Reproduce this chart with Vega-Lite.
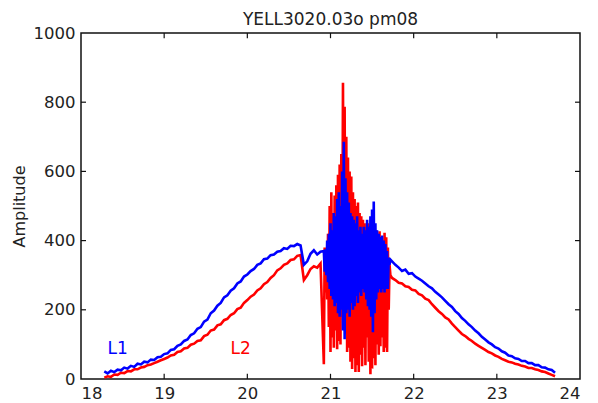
{
  "$schema": "https://vega.github.io/schema/vega-lite/v6.json",
  "width": 499,
  "height": 346,
  "autosize": {"type": "none"},
  "padding": {"left": 81, "top": 33, "right": 18, "bottom": 24},
  "background": "#ffffff",
  "config": {
    "font": "DejaVu Sans",
    "view": {"stroke": "#111111", "strokeWidth": 1.5},
    "axis": {"grid": false, "domain": false, "ticks": false, "labelColor": "#222222", "labelFont": "DejaVu Sans", "labelFontSize": 16.5, "labelPadding": 6, "titleFont": "DejaVu Sans", "titleFontWeight": "normal", "titleColor": "#222222", "titleFontSize": 16, "titlePadding": 6, "format": "d"}
  },
  "title": {"text": "YELL3020.03o  pm08", "fontSize": 17, "fontWeight": "normal", "font": "DejaVu Sans", "color": "#222222", "offset": -4, "anchor": "middle"},
  "datasets": {
    "curves": [
      {"x":18.28,"L1":22,"L2":4},{"x":18.32,"L1":16,"L2":8},{"x":18.36,"L1":24,"L2":6},{"x":18.40,"L1":20,"L2":13},{"x":18.44,"L1":27,"L2":12},{"x":18.48,"L1":25,"L2":18},{"x":18.52,"L1":33,"L2":17},{"x":18.56,"L1":30,"L2":23},{"x":18.60,"L1":38,"L2":22},{"x":18.64,"L1":35,"L2":28},{"x":18.68,"L1":44,"L2":28},{"x":18.72,"L1":42,"L2":33},{"x":18.76,"L1":50,"L2":35},{"x":18.80,"L1":48,"L2":40},{"x":18.84,"L1":56,"L2":42},{"x":18.88,"L1":55,"L2":46},{"x":18.92,"L1":63,"L2":50},{"x":18.96,"L1":64,"L2":54},{"x":19.00,"L1":72,"L2":58},{"x":19.04,"L1":74,"L2":62},{"x":19.08,"L1":84,"L2":68},{"x":19.12,"L1":86,"L2":70},{"x":19.16,"L1":96,"L2":78},{"x":19.20,"L1":100,"L2":80},{"x":19.24,"L1":110,"L2":88},{"x":19.28,"L1":114,"L2":90},{"x":19.32,"L1":127,"L2":99},{"x":19.36,"L1":132,"L2":102},{"x":19.40,"L1":145,"L2":110},{"x":19.44,"L1":150,"L2":112},{"x":19.48,"L1":166,"L2":124},{"x":19.52,"L1":172,"L2":128},{"x":19.56,"L1":190,"L2":140},{"x":19.60,"L1":198,"L2":143},{"x":19.64,"L1":212,"L2":155},{"x":19.68,"L1":220,"L2":158},{"x":19.72,"L1":236,"L2":170},{"x":19.76,"L1":242,"L2":174},{"x":19.80,"L1":255,"L2":185},{"x":19.84,"L1":262,"L2":190},{"x":19.88,"L1":276,"L2":202},{"x":19.92,"L1":282,"L2":206},{"x":19.96,"L1":296,"L2":220},{"x":20.00,"L1":302,"L2":228},{"x":20.04,"L1":312,"L2":238},{"x":20.08,"L1":318,"L2":244},{"x":20.12,"L1":330,"L2":256},{"x":20.16,"L1":334,"L2":262},{"x":20.20,"L1":346,"L2":274},{"x":20.24,"L1":348,"L2":280},{"x":20.28,"L1":358,"L2":292},{"x":20.32,"L1":360,"L2":300},{"x":20.36,"L1":368,"L2":314},{"x":20.40,"L1":370,"L2":320},{"x":20.44,"L1":378,"L2":330},{"x":20.48,"L1":376,"L2":334},{"x":20.52,"L1":385,"L2":344},{"x":20.56,"L1":384,"L2":346},{"x":20.60,"L1":390,"L2":356},{"x":20.64,"L1":386,"L2":358},{"x":20.68,"L1":330,"L2":286},{"x":20.72,"L1":340,"L2":300},{"x":20.76,"L1":362,"L2":318},{"x":20.80,"L1":372,"L2":326},{"x":20.84,"L1":360,"L2":322},{"x":20.88,"L1":368,"L2":334},
      {"x":20.92,"L1":370,"L2":43},{"x":20.93,"L1":310,"L2":380},{"x":20.94,"L1":375,"L2":250},{"x":20.95,"L1":300,"L2":370},{"x":20.96,"L1":400,"L2":230},{"x":20.97,"L1":280,"L2":420},{"x":20.98,"L1":420,"L2":150},{"x":20.99,"L1":260,"L2":500},{"x":21.00,"L1":450,"L2":78},{"x":21.01,"L1":240,"L2":540},{"x":21.02,"L1":430,"L2":120},{"x":21.03,"L1":230,"L2":480},{"x":21.04,"L1":480,"L2":90},{"x":21.05,"L1":210,"L2":530},{"x":21.06,"L1":470,"L2":140},{"x":21.07,"L1":220,"L2":560},{"x":21.08,"L1":520,"L2":86},{"x":21.09,"L1":190,"L2":590},{"x":21.10,"L1":540,"L2":110},{"x":21.11,"L1":180,"L2":620},{"x":21.12,"L1":500,"L2":100},{"x":21.13,"L1":200,"L2":650},{"x":21.14,"L1":600,"L2":180},{"x":21.15,"L1":140,"L2":856},{"x":21.16,"L1":686,"L2":170},{"x":21.17,"L1":115,"L2":787},{"x":21.18,"L1":580,"L2":130},{"x":21.19,"L1":190,"L2":700},{"x":21.20,"L1":540,"L2":78},{"x":21.21,"L1":200,"L2":640},{"x":21.22,"L1":510,"L2":90},{"x":21.23,"L1":180,"L2":600},{"x":21.24,"L1":480,"L2":50},{"x":21.25,"L1":220,"L2":585},{"x":21.26,"L1":470,"L2":29},{"x":21.27,"L1":200,"L2":540},{"x":21.28,"L1":460,"L2":60},{"x":21.29,"L1":210,"L2":520},{"x":21.30,"L1":450,"L2":20},{"x":21.31,"L1":240,"L2":500},{"x":21.32,"L1":470,"L2":40},{"x":21.33,"L1":220,"L2":510},{"x":21.34,"L1":430,"L2":20},{"x":21.35,"L1":250,"L2":480},{"x":21.36,"L1":440,"L2":70},{"x":21.37,"L1":240,"L2":470},{"x":21.38,"L1":420,"L2":37},{"x":21.39,"L1":260,"L2":460},{"x":21.40,"L1":440,"L2":90},{"x":21.41,"L1":250,"L2":450},{"x":21.42,"L1":430,"L2":40},{"x":21.43,"L1":230,"L2":440},{"x":21.44,"L1":460,"L2":120},{"x":21.45,"L1":210,"L2":450},{"x":21.46,"L1":440,"L2":50},{"x":21.47,"L1":200,"L2":430},{"x":21.48,"L1":470,"L2":14},{"x":21.49,"L1":180,"L2":420},{"x":21.50,"L1":490,"L2":30},{"x":21.51,"L1":135,"L2":432},{"x":21.52,"L1":513,"L2":60},{"x":21.53,"L1":190,"L2":410},{"x":21.54,"L1":450,"L2":40},{"x":21.55,"L1":230,"L2":430},{"x":21.56,"L1":430,"L2":100},{"x":21.57,"L1":250,"L2":420},{"x":21.58,"L1":420,"L2":70},{"x":21.59,"L1":260,"L2":427},{"x":21.60,"L1":410,"L2":95},{"x":21.61,"L1":250,"L2":410},{"x":21.62,"L1":415,"L2":120},{"x":21.63,"L1":260,"L2":400},{"x":21.64,"L1":400,"L2":78},{"x":21.65,"L1":250,"L2":423},{"x":21.66,"L1":390,"L2":90},{"x":21.67,"L1":260,"L2":410},{"x":21.68,"L1":370,"L2":78},{"x":21.69,"L1":260,"L2":380},{"x":21.70,"L1":350,"L2":200},{"x":21.71,"L1":330,"L2":330},{"x":21.72,"L1":345,"L2":300},
      {"x":21.74,"L1":340,"L2":292},{"x":21.78,"L1":330,"L2":286},{"x":21.82,"L1":322,"L2":278},{"x":21.86,"L1":312,"L2":276},{"x":21.90,"L1":316,"L2":268},{"x":21.94,"L1":304,"L2":266},{"x":21.98,"L1":306,"L2":258},{"x":22.02,"L1":296,"L2":256},{"x":22.06,"L1":290,"L2":246},{"x":22.10,"L1":284,"L2":242},{"x":22.14,"L1":276,"L2":232},{"x":22.18,"L1":268,"L2":228},{"x":22.22,"L1":262,"L2":216},{"x":22.26,"L1":252,"L2":206},{"x":22.30,"L1":244,"L2":196},{"x":22.34,"L1":236,"L2":188},{"x":22.38,"L1":226,"L2":178},{"x":22.42,"L1":216,"L2":172},{"x":22.46,"L1":208,"L2":160},{"x":22.50,"L1":196,"L2":150},{"x":22.54,"L1":188,"L2":140},{"x":22.58,"L1":176,"L2":130},{"x":22.62,"L1":168,"L2":124},{"x":22.66,"L1":158,"L2":116},{"x":22.70,"L1":150,"L2":110},{"x":22.74,"L1":140,"L2":102},{"x":22.78,"L1":132,"L2":96},{"x":22.82,"L1":122,"L2":90},{"x":22.86,"L1":114,"L2":84},{"x":22.90,"L1":106,"L2":78},{"x":22.94,"L1":100,"L2":74},{"x":22.98,"L1":92,"L2":68},{"x":23.02,"L1":88,"L2":64},{"x":23.06,"L1":80,"L2":58},{"x":23.10,"L1":76,"L2":54},{"x":23.14,"L1":68,"L2":50},{"x":23.18,"L1":66,"L2":48},{"x":23.22,"L1":60,"L2":44},{"x":23.26,"L1":58,"L2":42},{"x":23.30,"L1":52,"L2":38},{"x":23.34,"L1":52,"L2":36},{"x":23.38,"L1":46,"L2":32},{"x":23.42,"L1":46,"L2":32},{"x":23.46,"L1":40,"L2":28},{"x":23.50,"L1":40,"L2":26},{"x":23.54,"L1":34,"L2":22},{"x":23.58,"L1":33,"L2":20},{"x":23.62,"L1":28,"L2":16},{"x":23.66,"L1":26,"L2":12},{"x":23.70,"L1":18,"L2":8}
    ],
    "labels": [
      {"x": 18.44, "amp": 87, "name": "L1"},
      {"x": 19.92, "amp": 87, "name": "L2"}
    ],
    "xticks": [
      {"x": 19, "y": 0, "y2": 15}, {"x": 20, "y": 0, "y2": 15}, {"x": 21, "y": 0, "y2": 15}, {"x": 22, "y": 0, "y2": 15}, {"x": 23, "y": 0, "y2": 15},
      {"x": 19, "y": 1000, "y2": 985}, {"x": 20, "y": 1000, "y2": 985}, {"x": 21, "y": 1000, "y2": 985}, {"x": 22, "y": 1000, "y2": 985}, {"x": 23, "y": 1000, "y2": 985}
    ],
    "yticks": [
      {"x": 18, "x2": 18.06, "y": 200}, {"x": 18, "x2": 18.06, "y": 400}, {"x": 18, "x2": 18.06, "y": 600}, {"x": 18, "x2": 18.06, "y": 800},
      {"x": 24, "x2": 23.94, "y": 200}, {"x": 24, "x2": 23.94, "y": 400}, {"x": 24, "x2": 23.94, "y": 600}, {"x": 24, "x2": 23.94, "y": 800}
    ]
  },
  "layer": [
    {
      "data": {"name": "curves"},
      "mark": {"type": "line", "color": "#ff0000", "strokeWidth": 2.6, "clip": true},
      "encoding": {
        "x": {"field": "x", "type": "quantitative", "scale": {"domain": [18, 24], "nice": false, "zero": false}, "axis": {"values": [18, 19, 20, 21, 22, 23, 24], "title": null}},
        "y": {"field": "L2", "type": "quantitative", "scale": {"domain": [0, 1000], "nice": false}, "axis": {"values": [0, 200, 400, 600, 800, 1000], "title": "Amplitude"}}
      }
    },
    {
      "data": {"name": "curves"},
      "mark": {"type": "line", "color": "#0000ff", "strokeWidth": 2.6, "clip": true},
      "encoding": {
        "x": {"field": "x", "type": "quantitative", "axis": {"values": [18, 19, 20, 21, 22, 23, 24], "title": null}},
        "y": {"field": "L1", "type": "quantitative", "axis": {"values": [0, 200, 400, 600, 800, 1000], "title": "Amplitude"}}
      }
    },
    {
      "data": {"name": "xticks"},
      "mark": {"type": "rule", "color": "#111111", "strokeWidth": 1.2},
      "encoding": {
        "x": {"field": "x", "type": "quantitative", "axis": {"values": [18, 19, 20, 21, 22, 23, 24], "title": null}},
        "y": {"field": "y", "type": "quantitative", "axis": {"values": [0, 200, 400, 600, 800, 1000], "title": "Amplitude"}},
        "y2": {"field": "y2"}
      }
    },
    {
      "data": {"name": "yticks"},
      "mark": {"type": "rule", "color": "#111111", "strokeWidth": 1.2},
      "encoding": {
        "x": {"field": "x", "type": "quantitative", "axis": {"values": [18, 19, 20, 21, 22, 23, 24], "title": null}},
        "x2": {"field": "x2"},
        "y": {"field": "y", "type": "quantitative", "axis": {"values": [0, 200, 400, 600, 800, 1000], "title": "Amplitude"}}
      }
    },
    {
      "data": {"name": "labels"},
      "mark": {"type": "text", "fontSize": 17, "font": "DejaVu Sans"},
      "encoding": {
        "x": {"field": "x", "type": "quantitative", "axis": {"values": [18, 19, 20, 21, 22, 23, 24], "title": null}},
        "y": {"field": "amp", "type": "quantitative", "axis": {"values": [0, 200, 400, 600, 800, 1000], "title": "Amplitude"}},
        "text": {"field": "name", "type": "nominal"},
        "color": {"field": "name", "type": "nominal", "scale": {"domain": ["L1", "L2"], "range": ["#0000ff", "#ff0000"]}, "legend": null}
      }
    }
  ]
}
